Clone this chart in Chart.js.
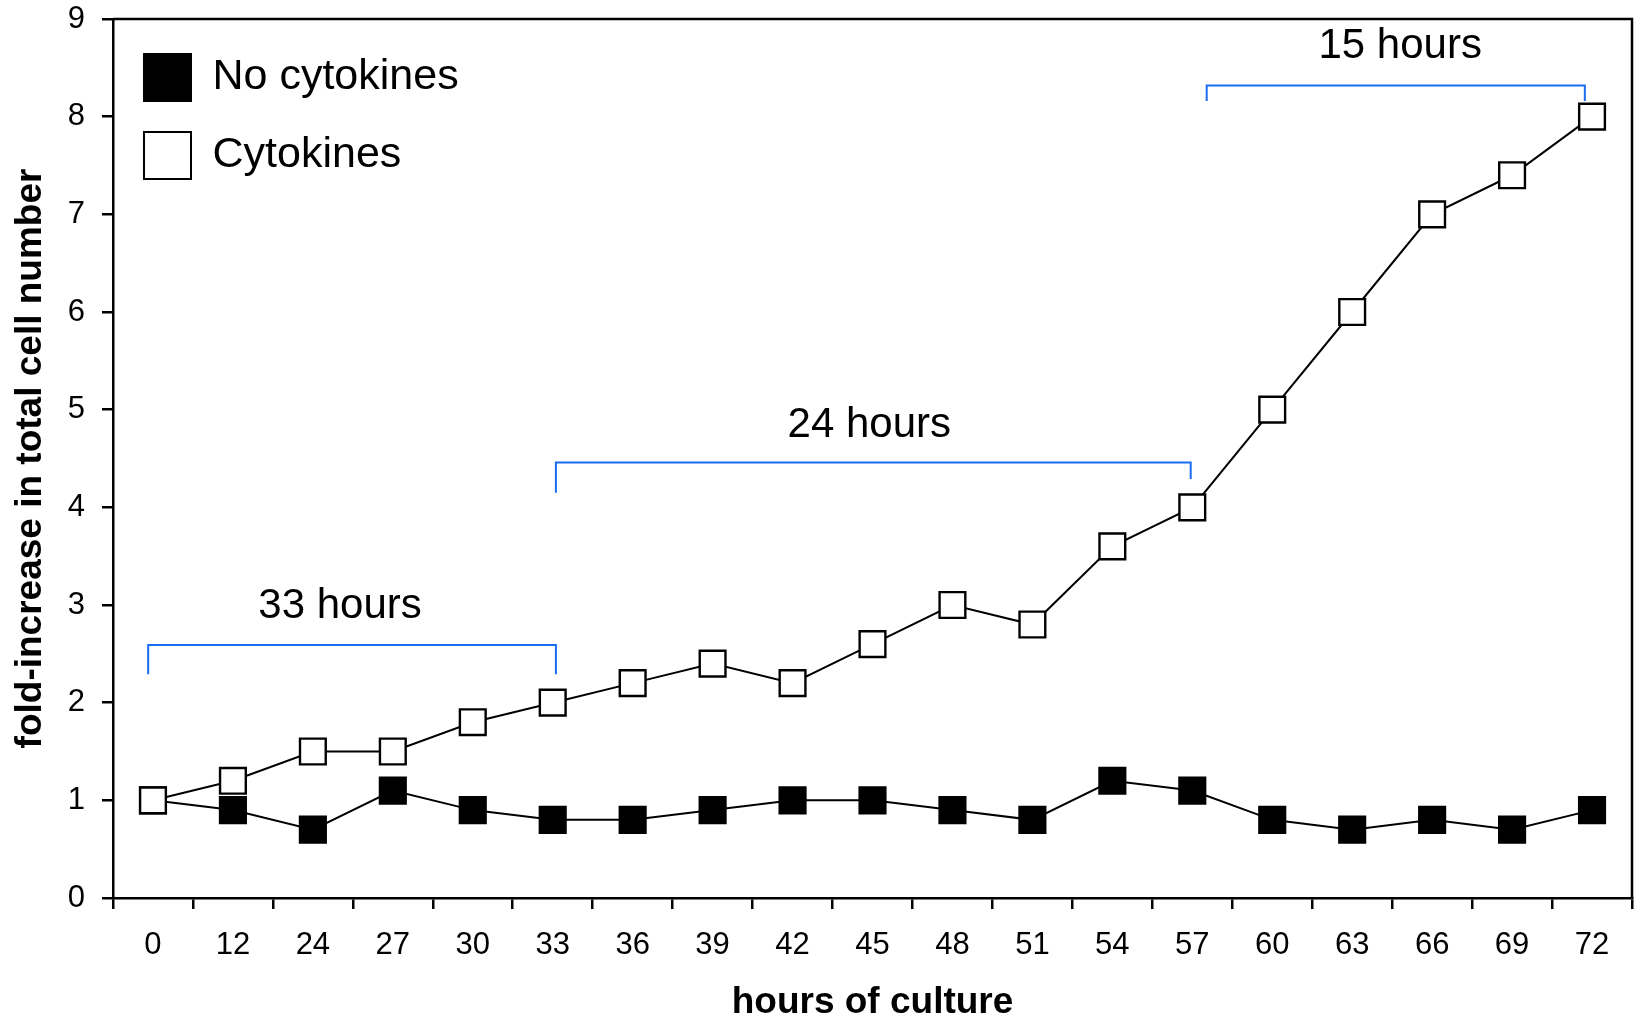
<!DOCTYPE html>
<html>
<head>
<meta charset="utf-8">
<script src="https://cdn.jsdelivr.net/npm/chart.js@4/dist/chart.umd.min.js"></script>
<style>
  html, body { margin: 0; padding: 0; background: #fff; }
  #wrap { width: 1634px; height: 1021px; position: relative; }
</style>
</head>
<body>
<div id="wrap"><canvas id="growth"></canvas></div>
<script>
// hours of culture (categories)
const hours = ["0", "12", "24", "27", "30", "33", "36", "39", "42", "45", "48", "51", "54", "57", "60", "63", "66", "69", "72"];
// fold-increase in total cell number
const noCytokines = [1.0, 0.9, 0.7, 1.1, 0.9, 0.8, 0.8, 0.9, 1.0, 1.0, 0.9, 0.8, 1.2, 1.1, 0.8, 0.7, 0.8, 0.7, 0.9];
const cytokines = [1.0, 1.2, 1.5, 1.5, 1.8, 2.0, 2.2, 2.4, 2.2, 2.6, 3.0, 2.8, 3.6, 4.0, 5.0, 6.0, 7.0, 7.4, 8.0];
const yTicks = [0, 1, 2, 3, 4, 5, 6, 7, 8, 9];

// doubling-time brackets (in category index / y units)
const spanText = ["33 hours", "24 hours", "15 hours"];
const spanFrom = [-0.06, 5.04, 13.18];
const spanTo = [5.04, 12.98, 17.91];
const spanTop = [2.59, 4.46, 8.32];
const spanFootFrom = [2.29, 4.15, 8.16];
const spanFootTo = [2.29, 4.29, 8.16];
const spanTextX = [2.34, 8.96, 15.6];
const spanTextY = [2.99, 4.84, 8.72];

const FONT = "'Liberation Sans', Arial, Helvetica, sans-serif";
Chart.defaults.color = "#000";
Chart.defaults.font.family = FONT;

const frame = {
  id: "frame",
  afterDraw(chart) {
    const {ctx, chartArea: a} = chart;
    ctx.save();
    ctx.strokeStyle = "#000";
    ctx.lineWidth = 2.5;
    ctx.beginPath();
    ctx.moveTo(a.left, a.top);
    ctx.lineTo(a.right, a.top);
    ctx.lineTo(a.right, a.bottom);
    ctx.stroke();
    ctx.restore();
  }
};

const brackets = {
  id: "brackets",
  afterDatasetsDraw(chart) {
    const {ctx, scales: {x, y}} = chart;
    ctx.save();
    ctx.strokeStyle = "#1a6cf0";
    ctx.lineWidth = 2;
    spanText.forEach((t, i) => {
      const x0 = x.getPixelForValue(spanFrom[i]);
      const x1 = x.getPixelForValue(spanTo[i]);
      ctx.beginPath();
      ctx.moveTo(x0, y.getPixelForValue(spanFootFrom[i]));
      ctx.lineTo(x0, y.getPixelForValue(spanTop[i]));
      ctx.lineTo(x1, y.getPixelForValue(spanTop[i]));
      ctx.lineTo(x1, y.getPixelForValue(spanFootTo[i]));
      ctx.stroke();
      ctx.fillStyle = "#000";
      ctx.font = "42px " + FONT;
      ctx.textAlign = "center";
      ctx.textBaseline = "middle";
      ctx.fillText(t, x.getPixelForValue(spanTextX[i]), y.getPixelForValue(spanTextY[i]));
    });
    ctx.restore();
  }
};

const marker = {
  pointStyle: "rect",
  pointRadius: 18.2,
  pointHoverRadius: 18.2,
  pointBorderWidth: 2.4,
  pointBorderColor: "#000",
  borderColor: "#000",
  borderWidth: 2,
  tension: 0
};

new Chart(document.querySelector("#growth"), {
  type: "line",
  data: {
    labels: hours,
    datasets: [
      Object.assign({label: "Cytokines", data: cytokines, backgroundColor: "#fff", pointBackgroundColor: "#fff"}, marker),
      Object.assign({label: "No cytokines", data: noCytokines, backgroundColor: "#000", pointBackgroundColor: "#000"}, marker)
    ]
  },
  options: {
    responsive: true,
    maintainAspectRatio: false,
    animation: false,
    layout: { autoPadding: false, padding: { top: 19, right: 2, bottom: 0, left: 0 } },
    plugins: {
      tooltip: { enabled: false },
      legend: {
        position: "chartArea",
        align: "start",
        reverse: true,
        title: { display: true, text: " ", font: { size: 23, lineHeight: 1 }, padding: 0 },
        labels: {
          boxWidth: 47,
          boxHeight: 47,
          padding: 31,
          color: "#000",
          font: { size: 43, family: FONT }
        }
      }
    },
    scales: {
      x: {
        offset: true,
        grid: { offset: true, drawOnChartArea: false, drawTicks: true, tickLength: 11, color: "#000", lineWidth: 2.5 },
        border: { color: "#000", width: 2.5 },
        ticks: { autoSkip: false, maxRotation: 0, padding: 18, color: "#000", font: { size: 31 } },
        title: { display: true, text: "hours of culture", color: "#000", font: { size: 37, weight: "bold", lineHeight: 1 }, padding: { top: 0, bottom: 0 } },
        afterFit: (s) => { s.height = 123; s.paddingLeft = 0; s.paddingRight = 0; }
      },
      y: {
        min: 0,
        max: 9,
        afterBuildTicks: (s) => { s.ticks = yTicks.map(v => ({value: v})); },
        grid: { drawOnChartArea: false, drawTicks: true, tickLength: 11, color: "#000", lineWidth: 2.5 },
        border: { color: "#000", width: 2.5 },
        ticks: { padding: 17, color: "#000", font: { size: 31 } },
        title: { display: true, text: "fold-increase in total cell number", color: "#000", font: { size: 37, weight: "bold", lineHeight: 1 }, padding: { top: 12, bottom: 0 } },
        afterFit: (s) => { s.width = 113; s.paddingTop = 0; s.paddingBottom = 0; }
      }
    }
  },
  plugins: [frame, brackets]
});
</script>
</body>
</html>
